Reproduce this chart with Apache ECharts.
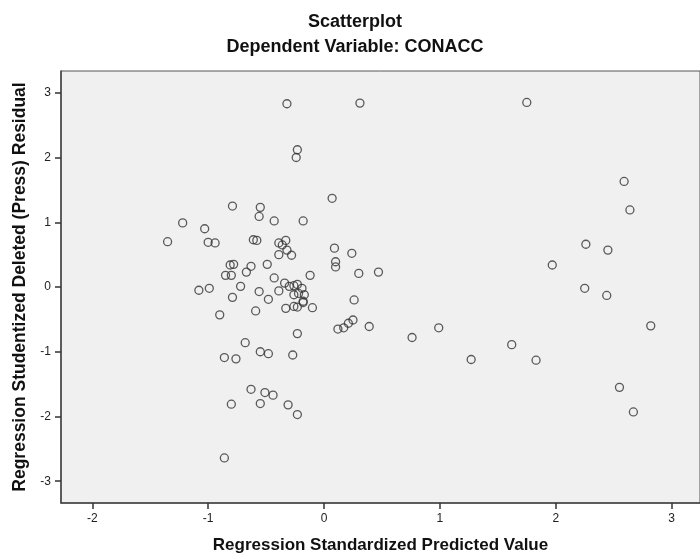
<!DOCTYPE html>
<html>
<head>
<meta charset="utf-8">
<script src="https://cdn.jsdelivr.net/npm/echarts@6/dist/echarts.min.js"></script>
<style>html,body{margin:0;padding:0;background:#fff}#c{width:700px;height:559px}</style>
</head>
<body>
<div id="c"></div>
<script>
var titleText = "Scatterplot";
var subtitleText = "Dependent Variable: CONACC";
var xAxisName = "Regression Standardized Predicted Value";
var yAxisName = "Regression Studentized Deleted (Press) Residual";
var xTicks = [-2, -1, 0, 1, 2, 3];
var yTicks = [-3, -2, -1, 0, 1, 2, 3];

var predicted = [
  0.07, -0.79, -0.55, -0.56, -0.43, -0.18, -1.22, -1.03, -1.35, -1.00,
  -0.94, -0.61, -0.58, -0.39, -0.33, -0.36, -0.32, -0.39, -0.28, 0.09,
  0.10, 0.10, -0.81, -0.78, -0.63, -0.49, -0.67, -0.85, -0.80, -0.43,
  -0.12, -0.72, -1.08, -0.99, -0.79, -0.56, -0.48, -0.39, -0.34, -0.30,
  -0.26, -0.23, -0.19, -0.26, -0.22, -0.17, -0.18, -0.18, -0.26, -0.23,
  -0.33, -0.10, -0.59, -0.90, -0.23, 0.12, 0.17, 0.21, 0.25, -0.68,
  -0.86, -0.76, -0.55, -0.48, -0.27, -0.63, -0.51, -0.44, -0.80, -0.55,
  -0.31, -0.23, -0.86, 0.31, 1.75, -0.23, -0.24, 0.24, 0.30, 0.47,
  0.26, 0.39, 0.76, 0.99, 1.27, 1.62, 1.83, 2.59, 2.64, 2.26,
  2.45, 1.97, 2.25, 2.44, 2.82, 2.55, 2.67, -0.32
];
var residual = [
  1.37, 1.25, 1.23, 1.09, 1.02, 1.02, 0.99, 0.90, 0.70, 0.69,
  0.68, 0.73, 0.72, 0.68, 0.72, 0.65, 0.57, 0.50, 0.49, 0.60,
  0.39, 0.31, 0.34, 0.35, 0.32, 0.35, 0.23, 0.18, 0.18, 0.14,
  0.18, 0.01, -0.05, -0.02, -0.16, -0.07, -0.19, -0.06, 0.06, 0.01,
  0.02, 0.04, -0.02, -0.12, -0.10, -0.12, -0.22, -0.24, -0.30, -0.31,
  -0.33, -0.32, -0.37, -0.43, -0.72, -0.65, -0.63, -0.56, -0.51, -0.86,
  -1.09, -1.11, -1.00, -1.03, -1.05, -1.58, -1.63, -1.67, -1.81, -1.80,
  -1.82, -1.97, -2.64, 2.84, 2.85, 2.12, 2.00, 0.52, 0.21, 0.23,
  -0.20, -0.61, -0.78, -0.63, -1.12, -0.89, -1.13, 1.63, 1.19, 0.66,
  0.57, 0.34, -0.02, -0.13, -0.60, -1.55, -1.93, 2.83
];

var points = predicted.map(function (x, i) { return [x, residual[i]]; });

var font = "'Liberation Sans', Arial, sans-serif";
var chart = echarts.init(document.getElementById('c'), null, {renderer: 'canvas'});
chart.setOption({
  animation: false,
  backgroundColor: '#ffffff',
  title: [
    {text: titleText, left: 355, top: 13, textAlign: 'center', padding: 0,
     textStyle: {fontFamily: font, fontSize: 18, fontWeight: 'bold', color: '#111'}},
    {text: subtitleText, left: 355, top: 38, textAlign: 'center', padding: 0,
     textStyle: {fontFamily: font, fontSize: 18, fontWeight: 'bold', color: '#111'}}
  ],
  grid: {
    left: 61, top: 71, width: 646, height: 436,
    show: true, backgroundColor: '#f0f0f0', borderColor: '#555', borderWidth: 1,
    containLabel: false
  },
  xAxis: {
    type: 'value', min: -2.27, max: 3.245,
    name: xAxisName, nameLocation: 'middle', nameGap: 34,
    nameTextStyle: {fontFamily: font, fontSize: 17, fontWeight: 'bold', color: '#111'},
    splitLine: {show: false},
    axisLine: {show: true, onZero: false, lineStyle: {color: '#444', width: 1.5}},
    axisTick: {show: true, inside: false, length: 6, customValues: xTicks, lineStyle: {color: '#333', width: 1.5}},
    axisLabel: {show: true, margin: 10, customValues: xTicks, fontFamily: font, fontSize: 12, color: '#222'}
  },
  yAxis: {
    type: 'value', min: -3.336, max: 3.336,
    name: yAxisName, nameLocation: 'middle', nameGap: 31,
    nameTextStyle: {fontFamily: font, fontSize: 17.5, fontWeight: 'bold', color: '#111'},
    splitLine: {show: false},
    axisLine: {show: true, onZero: false, lineStyle: {color: '#444', width: 1.5}},
    axisTick: {show: true, inside: false, length: 6, customValues: yTicks, lineStyle: {color: '#333', width: 1.5}},
    axisLabel: {show: true, margin: 10, customValues: yTicks, fontFamily: font, fontSize: 12, color: '#222'}
  },
  series: [{
    type: 'scatter',
    data: points,
    symbol: 'circle',
    symbolSize: 8,
    itemStyle: {color: 'rgba(0,0,0,0)', borderColor: '#333', borderWidth: 1.3},
    emphasis: {disabled: true}
  }]
});
</script>
</body>
</html>
